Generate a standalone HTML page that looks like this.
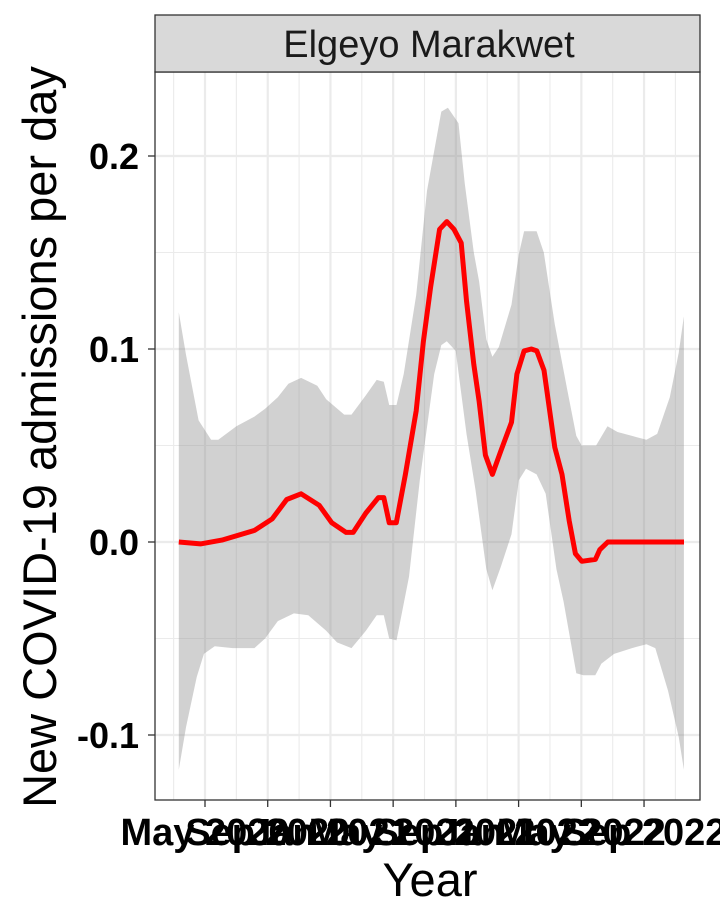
<!DOCTYPE html>
<html><head><meta charset="utf-8"><style>
html,body{margin:0;padding:0;background:#fff;}
svg{display:block;font-family:"Liberation Sans",Arial,sans-serif;}
</style></head><body>
<svg id="chart" width="720" height="921" viewBox="0 0 720 921" xmlns="http://www.w3.org/2000/svg">
<rect x="0" y="0" width="720" height="921" fill="#fff"/>
<g id="grid"></g>
<g id="series"></g>
<rect x="155" y="72" width="545" height="728" fill="none" stroke="#333" stroke-width="1.3"/>
<rect x="155" y="15" width="545" height="57" fill="#d9d9d9" stroke="#333" stroke-width="1.3"/>
<text x="429" y="57" text-anchor="middle" font-size="38" fill="#1a1a1a">Elgeyo Marakwet</text>
<g id="axes"></g>
<text x="430" y="896" text-anchor="middle" font-size="47" fill="#000">Year</text>
<text transform="translate(56,437) rotate(-90)" text-anchor="middle" font-size="47" fill="#000">New COVID-19 admissions per day</text>
</svg>
<script>
// x = months since Jan 2020 (0 = Jan 2020)
const lineMonths=[2.33,3.71,5.08,7.16,8.29,9.21,10.13,11.28,12.08,13.0,13.45,14.26,15.06,15.4,15.75,16.2,16.78,17.47,17.93,18.39,18.96,19.42,19.88,20.34,20.68,21.14,21.48,21.88,22.33,22.86,23.55,23.89,24.35,24.81,25.16,25.62,26.31,26.77,27.23,27.62,28.03,28.9,29.18,29.69,34.55];
const lineValues=[0.000,-0.001,0.001,0.006,0.012,0.022,0.025,0.019,0.010,0.005,0.005,0.015,0.023,0.023,0.010,0.010,0.035,0.068,0.104,0.132,0.162,0.166,0.162,0.155,0.125,0.092,0.073,0.045,0.035,0.047,0.062,0.087,0.099,0.100,0.099,0.089,0.049,0.035,0.011,-0.006,-0.010,-0.009,-0.004,0.000,0.000];
const upperMonths=[2.33,2.79,3.59,4.39,4.85,6.0,7.15,7.83,8.64,9.32,10.13,11.16,11.73,12.88,13.34,14.26,14.95,15.4,15.75,16.21,16.67,17.47,18.16,19.07,19.49,20.17,20.56,21.14,21.48,21.94,22.33,22.74,23.55,24.01,24.35,25.15,25.61,26.3,27.1,27.68,28.02,28.94,29.67,30.31,31.23,32.15,32.84,33.64,34.21,34.54];
const upperValues=[0.119,0.097,0.063,0.053,0.053,0.060,0.065,0.069,0.075,0.082,0.085,0.081,0.074,0.066,0.066,0.076,0.084,0.083,0.071,0.071,0.087,0.128,0.182,0.223,0.225,0.217,0.186,0.150,0.135,0.105,0.096,0.101,0.123,0.149,0.161,0.161,0.150,0.113,0.079,0.055,0.050,0.050,0.060,0.057,0.055,0.053,0.056,0.075,0.098,0.117];
const lowerMonths=[2.33,2.79,3.47,3.93,4.62,5.77,7.15,7.83,8.64,9.67,10.59,11.73,12.42,13.34,14.26,14.95,15.4,15.75,16.21,17.01,17.7,18.62,19.07,19.42,19.99,20.68,21.25,21.94,22.33,22.86,23.55,24.01,24.47,25.15,25.73,26.41,26.87,27.68,28.14,28.89,29.28,30.09,31.23,32.15,32.72,33.53,34.21,34.54];
const lowerValues=[-0.118,-0.096,-0.070,-0.058,-0.054,-0.055,-0.055,-0.050,-0.041,-0.037,-0.038,-0.046,-0.052,-0.055,-0.046,-0.038,-0.038,-0.050,-0.051,-0.018,0.032,0.087,0.102,0.104,0.099,0.056,0.027,-0.014,-0.025,-0.013,0.004,0.032,0.038,0.035,0.025,-0.014,-0.031,-0.068,-0.069,-0.069,-0.063,-0.058,-0.055,-0.053,-0.055,-0.077,-0.101,-0.118];
const yTicks=[-0.1,0.0,0.1,0.2];
const yTickLabels=["-0.1","0.0","0.1","0.2"];
const yMinor=[-0.05,0.05,0.15];
const xTicks=[4,8,12,16,20,24,28,32];
const xTickLabels=["May 2020","Sep 2020","Jan 2021","May 2021","Sep 2021","Jan 2022","May 2022","Sep 2022"];
const xMinor=[2,6,10,14,18,22,26,30,34];

const NS="http://www.w3.org/2000/svg";
function X(m){return 205+(m-4)*15.68;}
function Y(v){return 542-v*1930;}
function mk(tag,attrs,parent){const e=document.createElementNS(NS,tag);for(const k in attrs)e.setAttribute(k,attrs[k]);parent.appendChild(e);return e;}
const grid=document.getElementById('grid'),series=document.getElementById('series'),axes=document.getElementById('axes');
mk('rect',{x:155,y:72,width:545,height:728,fill:'#fff'},grid);
yMinor.forEach(v=>{const l=mk('line',{x1:155,x2:700,y1:Y(v),y2:Y(v),stroke:'#ebebeb','stroke-width':1.1},grid);

});
xMinor.forEach(m=>{const l=mk('line',{x1:X(m),x2:X(m),y1:72,y2:800,stroke:'#ebebeb','stroke-width':1.1},grid);

});
yTicks.forEach(v=>{const l=mk('line',{x1:155,x2:700,y1:Y(v),y2:Y(v),stroke:'#ebebeb','stroke-width':2.2},grid);

});
xTicks.forEach(m=>{const l=mk('line',{x1:X(m),x2:X(m),y1:72,y2:800,stroke:'#ebebeb','stroke-width':2.2},grid);

});
let d='M'+upperMonths.map((m,i)=>X(m).toFixed(1)+','+Y(upperValues[i]).toFixed(1)).join('L');
for(let i=lowerMonths.length-1;i>=0;i--)d+='L'+X(lowerMonths[i]).toFixed(1)+','+Y(lowerValues[i]).toFixed(1);
d+='Z';
const rib=mk('path',{d:d,fill:'#8c8c8c','fill-opacity':0.4},series);


const ln=mk('polyline',{points:lineMonths.map((m,i)=>X(m).toFixed(1)+','+Y(lineValues[i]).toFixed(1)).join(' '),fill:'none',stroke:'#ff0000','stroke-width':5,'stroke-linejoin':'round'},series);


yTicks.forEach((v,i)=>{mk('line',{x1:148,x2:155,y1:Y(v),y2:Y(v),stroke:'#333','stroke-width':1.3},axes);
const t=mk('text',{x:139,y:Y(v)+13,'text-anchor':'end','font-size':36,'font-weight':'bold',fill:'#000'},axes);
t.textContent=yTickLabels[i];

});
xTicks.forEach((m,i)=>{mk('line',{x1:X(m),x2:X(m),y1:800,y2:807,stroke:'#333','stroke-width':1.3},axes);
const t=mk('text',{x:X(m),y:845,'text-anchor':'middle','font-size':38,'font-weight':'bold',fill:'#000'},axes);
t.textContent=xTickLabels[i];

});
</script>
</body></html>
